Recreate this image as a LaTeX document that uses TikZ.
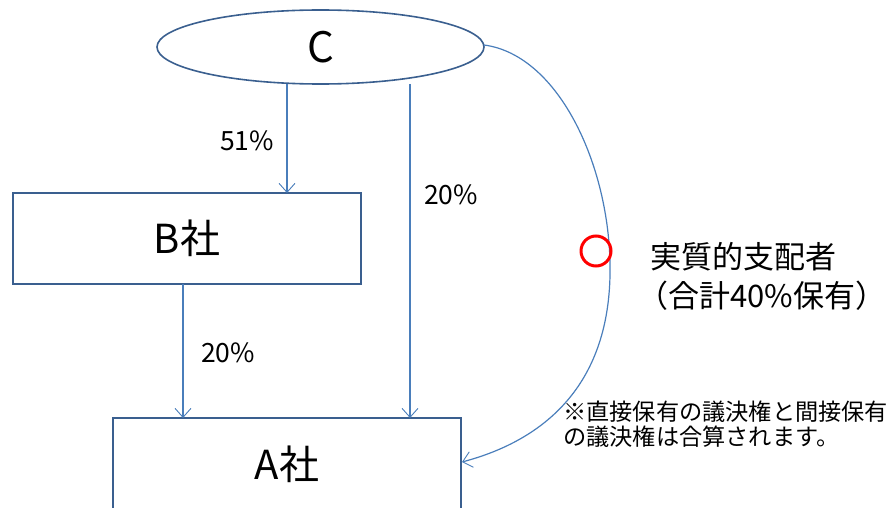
\documentclass[tikz,border=0pt]{standalone}
\usepackage{fontspec}
\setmainfont{Noto Sans CJK JP}
\usetikzlibrary{arrows.meta,shapes.geometric}
\definecolor{boxblue}{HTML}{3A5F8F}
\definecolor{lineblue}{HTML}{4A7EBB}
\tikzset{
  boxnode/.style={draw=boxblue,line width=1.6pt,fill=white,minimum width=348pt,minimum height=91pt,inner sep=0pt,font=\fontsize{40}{44}\selectfont},
  ellnode/.style={ellipse,draw=boxblue,line width=1.6pt,minimum width=327pt,minimum height=74pt,inner sep=0pt,font=\fontsize{42}{46}\selectfont},
  conn/.style={draw=lineblue,line width=1.2pt,-{Straight Barb[length=9pt,width=16pt,line width=0.9pt]}},
  pct/.style={font=\fontsize{26.5}{28}\selectfont},
  note/.style={font=\fontsize{23.2}{25}\selectfont,align=left,inner sep=0pt}
}
\begin{document}
\begin{tikzpicture}[x=1pt,y=-1pt]
\useasboundingbox (0,0) rectangle (896,508);
\clip (0,0) rectangle (896,508);
\node[ellnode] (c) at (320.5,47) {C};
\node[boxnode] (b) at (187,238.5) {B社};
\node[boxnode,minimum height=110pt] (a) at (287,473) {};
\node[font=\fontsize{40}{44}\selectfont] (alabel) at (287,464) {A社};
\coordinate (c1) at (287,84);
\coordinate (b1) at (287,193);
\coordinate (c2) at (410,84);
\coordinate (a2) at (410,418);
\coordinate (b3) at (183,284);
\coordinate (a3) at (183,418);
\coordinate (cr) at (484,45);
\coordinate (ar) at (462,462);
\coordinate (mid) at (610,275);
\draw[conn] (c1) -- (b1);
\draw[conn] (c2) -- (a2);
\draw[conn] (b3) -- (a3);
\draw[conn] (cr) .. controls (560,55) and (612,170) .. (mid) .. controls (608,385) and (545,440) .. (ar);
\node[pct] (p1) at (247,141) {51\%};
\node[pct] (p2) at (451,195) {20\%};
\node[pct] (p3) at (228,353) {20\%};
\node[draw=red,line width=3pt,circle,minimum size=30pt,inner sep=0pt] (ring) at (596,251) {};
\node[font=\fontsize{31}{39}\selectfont,anchor=west,align=left,inner sep=0pt] (owner) at (637,276) {\hspace{13pt}実質的支配者\\（合計40\%保有）};
\node[note,anchor=west] (n1) at (563,424) {※直接保有の議決権と間接保有\\の議決権は合算されます。};
\end{tikzpicture}
\end{document}
